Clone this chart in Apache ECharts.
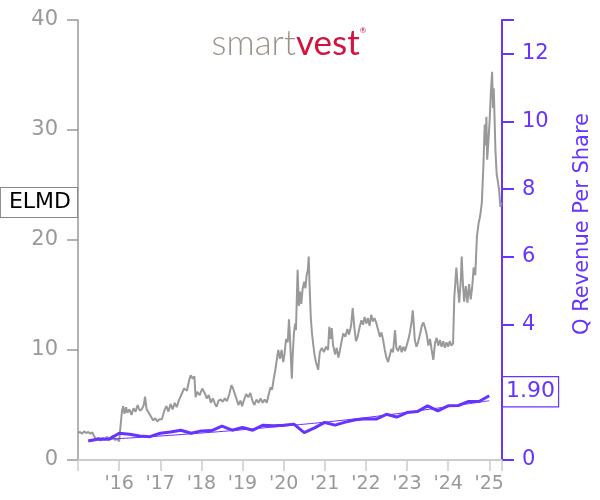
<!DOCTYPE html>
<html>
<head>
<meta charset="utf-8">
<script src="https://cdn.jsdelivr.net/npm/echarts@6/dist/echarts.min.js"></script>
<style>
html,body{margin:0;padding:0;background:#fff;}
#chart{width:600px;height:500px;}
</style>
</head>
<body>
<div id="chart"></div>
<script>
// ---- DATA ----
const ticker = "ELMD";
const revenueLabel = "Q Revenue Per Share";
const xTickYears = [2016, 2017, 2018, 2019, 2020, 2021, 2022, 2023, 2024, 2025];
const xTickLabels = ["'16", "'17", "'18", "'19", "'20", "'21", "'22", "'23", "'24", "'25"];

// price (decimal year, USD)
const priceDates = [
2015.00,2015.05,2015.10,2015.15,2015.20,2015.25,2015.30,2015.35,2015.40,2015.45,2015.50,2015.55,2015.60,2015.65,2015.70,2015.75,2015.80,2015.85,2015.90,2015.95,
2016.00,2016.04,2016.07,2016.10,2016.13,2016.17,2016.20,2016.25,2016.30,2016.35,2016.40,2016.45,2016.50,2016.55,2016.60,2016.63,2016.67,2016.72,2016.78,2016.83,2016.88,2016.93,2016.98,
2017.04,2017.10,2017.15,2017.20,2017.25,2017.30,2017.35,2017.40,2017.45,2017.52,2017.58,2017.65,2017.70,2017.74,2017.79,2017.83,2017.86,2017.90,2017.96,
2018.02,2018.08,2018.13,2018.18,2018.23,2018.28,2018.33,2018.37,2018.42,2018.47,2018.52,2018.57,2018.62,2018.68,2018.73,2018.77,2018.81,2018.85,2018.90,2018.95,2018.99,
2019.04,2019.09,2019.14,2019.19,2019.24,2019.29,2019.34,2019.39,2019.44,2019.49,2019.54,2019.59,2019.64,2019.68,2019.72,2019.76,2019.80,2019.84,2019.87,2019.91,2019.95,2019.99,
2020.02,2020.06,2020.10,2020.13,2020.15,2020.18,2020.20,2020.22,2020.25,2020.28,2020.30,2020.34,2020.37,2020.40,2020.43,2020.46,2020.50,2020.53,2020.56,2020.59,2020.61,2020.63,2020.66,2020.69,2020.72,2020.75,2020.78,2020.81,2020.84,2020.88,2020.93,2020.98,
2021.03,2021.08,2021.11,2021.14,2021.17,2021.20,2021.25,2021.29,2021.33,2021.37,2021.41,2021.45,2021.50,2021.55,2021.59,2021.64,2021.68,2021.72,2021.76,2021.80,2021.85,2021.89,2021.93,2021.97,
2022.01,2022.05,2022.09,2022.13,2022.17,2022.21,2022.25,2022.30,2022.34,2022.38,2022.42,2022.46,2022.50,2022.54,2022.58,2022.62,2022.66,2022.71,2022.74,2022.78,2022.83,2022.87,2022.91,2022.95,2022.99,
2023.03,2023.07,2023.11,2023.14,2023.16,2023.19,2023.23,2023.27,2023.32,2023.36,2023.40,2023.44,2023.48,2023.52,2023.56,2023.60,2023.64,2023.68,2023.72,2023.76,2023.80,2023.84,2023.88,2023.92,2023.96,
2024.00,2024.04,2024.08,2024.12,2024.15,2024.20,2024.24,2024.27,2024.31,2024.33,2024.36,2024.39,2024.43,2024.47,2024.51,2024.55,2024.59,2024.62,2024.66,2024.70,2024.74,2024.78,2024.82,2024.86,2024.89,2024.91,2024.93,2024.95,2024.98,
2025.01,2025.04,2025.07,2025.09,2025.11,2025.13,2025.15,2025.18,2025.21,2025.24,2025.27,2025.30
];
const priceValues = [
2.45,2.55,2.4,2.6,2.45,2.55,2.4,2.5,2.1,1.9,2.0,1.75,2.0,1.9,2.1,1.95,2.05,2.2,1.8,1.95,
1.7,1.8,4.5,4.9,4.2,4.8,4.3,4.6,4.1,4.7,4.4,5.0,4.5,4.6,5.0,5.75,4.6,4.3,3.9,3.6,3.8,3.5,3.7,
3.7,4.5,4.9,4.4,5.1,4.6,5.2,4.8,5.4,6.0,6.5,6.3,7.2,7.7,7.4,7.6,5.7,6.2,5.9,
6.5,6.1,5.6,5.9,5.2,5.6,5.1,4.85,5.4,5.5,5.3,5.6,5.35,6.0,6.8,6.5,6.6,5.6,5.0,5.4,4.9,
5.5,6.0,5.7,6.1,5.4,5.0,5.5,5.2,5.6,5.2,5.5,5.2,6.0,6.6,6.4,7.4,8.2,9.3,10.0,9.2,10.0,8.9,
9.6,11.0,10.7,12.8,11.5,9.0,7.4,9.5,11.5,12.4,11.8,17.3,14.0,15.3,14.2,15.5,16.2,15.6,16.8,17.3,18.5,16.0,13.0,11.5,10.5,9.6,9.0,8.6,8.2,9.8,10.2,9.8,
10.3,10.0,12.1,11.0,12.0,10.5,9.6,10.2,9.3,10.0,10.8,11.5,11.2,11.9,11.4,12.2,13.8,12.0,10.8,11.2,12.1,12.7,12.3,13.0,
12.4,12.9,12.2,13.2,12.6,12.9,12.5,11.8,11.2,11.6,10.9,10.0,9.3,8.9,9.5,10.1,9.8,11.8,10.2,9.9,10.4,9.8,10.3,9.9,10.4,
10.9,11.6,12.5,13.6,12.6,10.9,10.3,10.7,11.5,12.2,12.5,12.0,11.4,10.4,11.0,10.0,9.1,10.6,11.1,10.4,10.9,10.3,10.8,10.2,10.7,
10.3,10.8,10.4,10.6,14.8,17.5,15.5,14.3,16.5,18.5,16.0,14.4,15.8,14.3,16.0,14.6,15.9,17.5,16.8,20.3,21.5,22.2,23.4,27.0,30.5,28.6,31.2,27.3,29.0,
30.9,33.5,35.3,32.0,33.8,31.0,28.2,26.0,25.3,24.5,23.0,23.4
];

// quarterly revenue per share
const revDates = [
2015.25,2015.50,2015.75,2016.00,2016.25,2016.50,2016.75,2017.00,2017.25,2017.50,2017.75,2018.00,2018.25,2018.50,2018.75,2019.00,2019.25,2019.50,2019.75,2020.00,
2020.25,2020.50,2020.75,2021.00,2021.25,2021.50,2021.75,2022.00,2022.25,2022.50,2022.75,2023.00,2023.25,2023.50,2023.75,2024.00,2024.25,2024.50,2024.75,2025.00
];
const revValues = [
0.56,0.62,0.61,0.79,0.76,0.71,0.69,0.79,0.83,0.88,0.79,0.86,0.87,1.00,0.88,0.96,0.88,1.03,1.01,1.03,
1.06,0.81,0.95,1.11,1.03,1.12,1.19,1.22,1.21,1.35,1.27,1.40,1.43,1.60,1.45,1.60,1.61,1.73,1.73,1.90
];
// trend curve
const trendDates = [2015.25,2016.25,2017.25,2018.25,2019.25,2020.25,2021.25,2022.25,2023.25,2024.25,2025.00];
const trendValues = [0.58,0.65,0.73,0.82,0.92,1.03,1.15,1.29,1.45,1.62,1.75];
const lastRevenueText = "1.90";

// ---- CHART ----
const GRAY = '#999999';
const PURPLE = '#6633ff';
const FONT = 'DejaVu Sans';
const zip = (a, b) => a.map((d, i) => [d, b[i]]);

const chart = echarts.init(document.getElementById('chart'), null, {renderer: 'canvas'});
const option = {
  animation: false,
  backgroundColor: '#fff',
  grid: {left: 78, right: 98, top: 20, bottom: 40, containLabel: false},
  xAxis: {
    type: 'value', min: 2015, max: 2025.31, interval: 1,
    axisLine: {show: true, onZero: false, lineStyle: {color: '#cccccc', width: 2}},
    axisTick: {show: true, length: 11, lineStyle: {color: '#cccccc', width: 1.5}},
    splitLine: {show: false},
    axisLabel: {
      color: GRAY, fontFamily: FONT, fontSize: 19, margin: 15,
      showMinLabel: true, showMaxLabel: true,
      formatter: v => { const i = xTickYears.indexOf(Math.round(v * 100) / 100); return i >= 0 ? xTickLabels[i] : ''; }
    }
  },
  yAxis: [{
    type: 'value', min: 0, max: 40, interval: 10, position: 'left',
    axisLine: {show: true, lineStyle: {color: GRAY, width: 1.5}},
    axisTick: {show: true, length: 11, lineStyle: {color: GRAY, width: 1.5}},
    splitLine: {show: false},
    axisLabel: {color: GRAY, fontFamily: FONT, fontSize: 21, margin: 20}
  }, {
    type: 'value', min: 0, max: 13, interval: 2, position: 'right',
    axisLine: {show: true, lineStyle: {color: PURPLE, width: 2}},
    axisTick: {show: true, length: 12, lineStyle: {color: PURPLE, width: 2}},
    splitLine: {show: false},
    axisLabel: {color: PURPLE, fontFamily: FONT, fontSize: 21, margin: 20,
      formatter: v => (v % 2 === 0 ? String(v) : '')}
  }],
  series: [{
    type: 'line', yAxisIndex: 0, data: zip(priceDates, priceValues), showSymbol: false,
    lineStyle: {color: GRAY, width: 2}, z: 2
  }, {
    type: 'line', yAxisIndex: 1, data: zip(trendDates, trendValues), showSymbol: false, smooth: true,
    lineStyle: {color: PURPLE, width: 1}, z: 3
  }, {
    type: 'line', yAxisIndex: 1, data: zip(revDates, revValues), showSymbol: false,
    lineStyle: {color: PURPLE, width: 3}, z: 4
  }]
};
chart.setOption(option);

const yPrice = chart.convertToPixel({yAxisIndex: 0}, priceValues[priceValues.length - 1]);
const yRev = chart.convertToPixel({yAxisIndex: 1}, revValues[revValues.length - 1]);
const xLeft = chart.convertToPixel({xAxisIndex: 0}, 2015);
const xRight = chart.convertToPixel({xAxisIndex: 0}, 2025.31);

chart.setOption({
  graphic: [{
    type: 'text', x: xLeft - 1, y: yPrice, z: 100,
    style: {text: ticker, fill: '#000', font: '22px "DejaVu Sans"', align: 'right', verticalAlign: 'middle',
      backgroundColor: '#fff', borderColor: '#888', borderWidth: 1, padding: [4, 6, 3, 8]}
  }, {
    type: 'text', x: xRight + 1, y: yRev - 4, z: 100,
    style: {text: lastRevenueText, fill: PURPLE, font: '22px "DejaVu Sans"', align: 'left', verticalAlign: 'middle',
      backgroundColor: '#fff', borderColor: PURPLE, borderWidth: 1.2, padding: [4, 3, 3, 3]}
  }, {
    type: 'text', x: 583, y: 224, rotation: Math.PI / 2, z: 100,
    style: {text: revenueLabel, fill: PURPLE, font: '21px "DejaVu Sans"', align: 'center', verticalAlign: 'middle'}
  }, {
    type: 'text', x: 289, y: 44, z: 100,
    style: {
      text: '{a|smart}{b|vest}{c|®}', align: 'center', verticalAlign: 'middle',
      rich: {
        a: {fill: '#9c9388', fontFamily: 'Lato', fontSize: 35, fontWeight: 300},
        b: {fill: '#d2123f', fontFamily: 'Lato', fontSize: 35, fontWeight: 'normal'},
        c: {fill: '#d2123f', fontFamily: 'Lato', fontSize: 8, verticalAlign: 'top', padding: [0, 0, 18, 0]}
      }
    }
  }]
});
</script>
</body>
</html>
